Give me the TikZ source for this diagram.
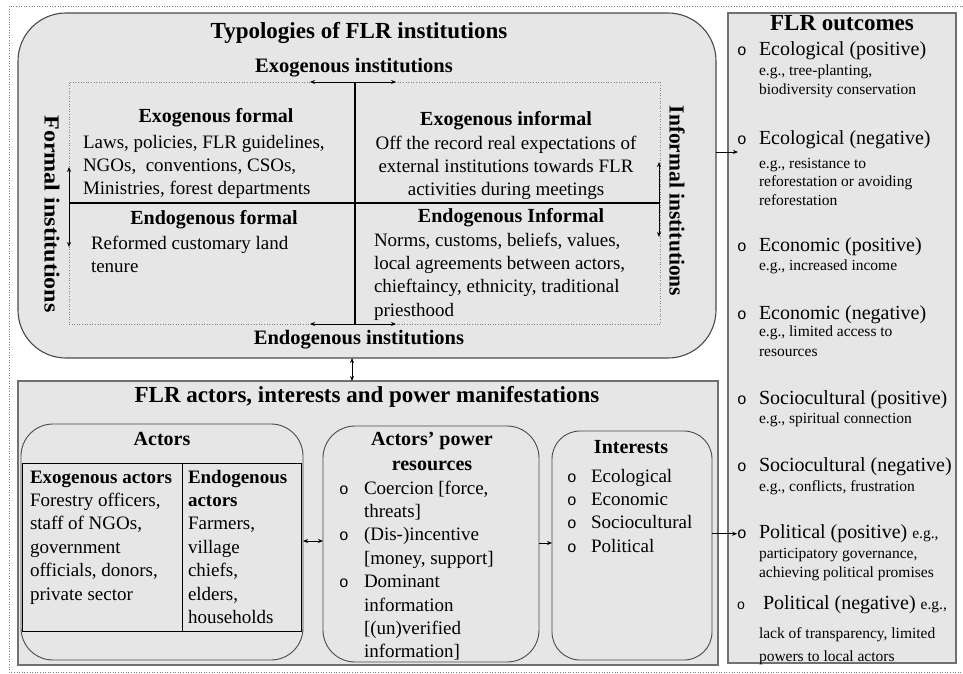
\documentclass[tikz,border=0pt]{standalone}
\usepackage{fontspec}
\setmainfont{Liberation Serif}
\newfontfamily\bulletfamily{Liberation Mono}
\usetikzlibrary{arrows.meta}
\definecolor{panel}{HTML}{E6E6E6}
\definecolor{edge}{HTML}{4A4A4A}
\definecolor{softedge}{HTML}{707070}
\newcommand{\lft}[1]{\begin{tabular}[t]{@{}l@{}}#1\end{tabular}}
\newcommand{\ctr}[1]{\begin{tabular}[t]{@{}c@{}}#1\end{tabular}}
\newcommand{\blist}[2]{\begin{tabular}[t]{@{}p{#1}@{}l@{}}#2\end{tabular}}
\newcommand{\blt}{{\bulletfamily\fontsize{16}{16}\selectfont o}}
\begin{document}
\begin{tikzpicture}[x=1pt,y=-1pt,
  every node/.style={inner sep=0pt, outer sep=0pt},
  ttl/.style={font=\fontsize{23}{27}\selectfont\bfseries, anchor=base},
  hd/.style={font=\fontsize{20}{25}\selectfont\bfseries, anchor=base},
  bighd/.style={font=\fontsize{20.5}{25}\selectfont\bfseries, anchor=base},
  sidehd/.style={font=\fontsize{21.5}{25}\selectfont\bfseries, rotate=-90, anchor=center},
  txt/.style={font=\fontsize{19}{23.4}\selectfont, anchor=base west},
  ctxt/.style={font=\fontsize{19}{23.4}\selectfont, anchor=base},
  outhd/.style={font=\fontsize{20}{24}\selectfont, anchor=base west},
  eg/.style={font=\fontsize{15.5}{18.5}\selectfont, anchor=base west},
  bul/.style={font=\bulletfamily\fontsize{16}{16}\selectfont, anchor=base},
  panelbox/.style={draw=edge, fill=panel, line width=1.1pt},
  innerbox/.style={draw=edge, fill=panel, line width=0.9pt},
  frame/.style={draw=gray, dotted, line width=0.6pt},
  divline/.style={draw=black, line width=1.1pt},
  tip/.style={-{Stealth[length=5pt,width=4pt]}, line width=0.8pt},
  dbl/.style={{Stealth[length=5pt,width=4pt]}-{Stealth[length=5pt,width=4pt]}, line width=0.8pt}
]
\useasboundingbox (0,0) rectangle (963,674);
\draw[frame] (963,6) -- (9,6) -- (9,672) -- (963,672);

% ---------- top panel ----------
\node[panelbox, rounded corners=48pt, minimum width=698pt, minimum height=345pt] (typo) at (367,185.5) {};
\node[ttl] (typot) at (359,39) {Typologies of FLR institutions};
\node[bighd] (exoi) at (354,73) {Exogenous institutions};
\node[bighd] (endoi) at (359,344) {Endogenous institutions};
\node[draw=gray, dotted, line width=0.6pt, minimum width=591pt, minimum height=242pt] (quad) at (364.5,203) {};
\coordinate (qc) at (355,203);
\draw[divline] (quad.north -| qc) -- (quad.south -| qc);
\draw[divline] (quad.west |- qc) -- (quad.east |- qc);
\coordinate (ta) at (310,82); \coordinate (tb) at (396,82);
\coordinate (ba) at (310,324); \coordinate (bb) at (396,324);
\coordinate (la) at (69,167); \coordinate (lb) at (69,247);
\coordinate (ra) at (659,162); \coordinate (rb) at (659,237);
\draw[dbl] (ta) -- (tb);
\draw[dbl] (ba) -- (bb);
\draw[dbl] (la) -- (lb);
\draw[dbl] (ra) -- (rb);
\node[sidehd] (formal) at (52,214) {\scalebox{1.12}[1]{Formal institutions}};
\node[sidehd] (informal) at (677,201) {Informal institutions};

\node[hd] (q1h) at (216,123) {Exogenous formal};
\node[txt] (q1t) at (83,148) {\lft{Laws, policies, FLR guidelines,\\NGOs,\ \ conventions, CSOs,\\Ministries, forest departments}};
\node[hd] (q2h) at (506,125) {Exogenous informal};
\node[ctxt] (q2t) at (506,149) {\ctr{Off the record real expectations of\\external institutions towards FLR\\activities during meetings}};
\node[hd] (q3h) at (214,224) {Endogenous formal};
\node[txt] (q3t) at (91,249) {\lft{Reformed customary land\\tenure}};
\node[hd] (q4h) at (511,222) {Endogenous Informal};
\node[txt] (q4t) at (374,246) {\lft{Norms, customs, beliefs, values,\\local agreements between actors,\\chieftaincy, ethnicity, traditional\\priesthood}};

% ---------- middle panel ----------
\node[panelbox, draw=softedge, minimum width=700pt, minimum height=284pt] (actbox) at (368,523) {};
\node[ttl] (actt) at (367,402) {FLR actors, interests and power manifestations};
\coordinate (vx) at (352,370);
\draw[dbl] (typo.south -| vx) -- (actbox.north -| vx);

\node[innerbox, rounded corners=32pt, minimum width=282pt, minimum height=236pt] (actors) at (162,542) {};
\node[hd] (acth) at (162,445) {Actors};
\node[draw=black, line width=1pt, minimum width=279pt, minimum height=168pt] (tab) at (161.5,547) {};
\coordinate (tv) at (182,547);
\draw[line width=1pt] (tab.north -| tv) -- (tab.south -| tv);
\node[txt] (exoa) at (30,483) {\lft{\textbf{Exogenous actors}\\Forestry officers,\\staff of NGOs,\\government\\officials, donors,\\private sector}};
\node[txt] (endoa) at (188,483) {\lft{\textbf{Endogenous}\\\textbf{actors}\\Farmers,\\village\\chiefs,\\elders,\\households}};

\node[innerbox, rounded corners=32pt, minimum width=216pt, minimum height=236pt] (power) at (431,544) {};
\node[hd] (powh) at (432,445) {\ctr{Actors’ power\\resources}};
\node[txt] (powt) at (339,494) {\blist{25pt}{\blt & Coercion [force,\\ & threats]\\ \blt & (Dis-)incentive\\ & [money, support]\\ \blt & Dominant\\ & information\\ & [(un)verified\\ & information]}};

\node[innerbox, rounded corners=28pt, minimum width=160pt, minimum height=229pt] (intr) at (632,545.5) {};
\node[hd] (inth) at (631,453) {Interests};
\node[txt] (intt) at (567,482) {\blist{24pt}{\blt & Ecological\\ \blt & Economic\\ \blt & Sociocultural\\ \blt & Political}};

\coordinate (c1) at (313,541);
\coordinate (c2) at (545,543);
\draw[dbl] (actors.east |- c1) -- (power.west |- c1);
\draw[tip] (power.east |- c2) -- (intr.west |- c2);

% ---------- outcomes ----------
\node[panelbox, draw=softedge, minimum width=228pt, minimum height=650pt] (outc) at (842,338) {};
\node[ttl] (outt) at (842,31) {FLR outcomes};

\node[bul] (b1) at (742,56) {o};
\node[outhd] (o1) at (759,56) {Ecological (positive)};
\node[eg] (e1) at (759,76) {\lft{e.g., tree-planting,\\biodiversity conservation}};

\node[bul] (b2) at (742,144) {o};
\node[outhd] (o2) at (759,144) {Ecological (negative)};
\node[eg] (e2) at (759,168) {\lft{e.g., resistance to\\reforestation or avoiding\\reforestation}};

\node[bul] (b3) at (742,251) {o};
\node[outhd] (o3) at (759,251) {Economic (positive)};
\node[eg] (e3) at (759,270) {e.g., increased income};

\node[bul] (b4) at (742,319) {o};
\node[outhd] (o4) at (759,319) {Economic (negative)};
\node[eg] (e4) at (759,336) {\lft{e.g., limited access to\\[1.5pt]resources}};

\node[bul] (b5) at (742,404) {o};
\node[outhd] (o5) at (759,404) {Sociocultural (positive)};
\node[eg] (e5) at (759,423) {e.g., spiritual connection};

\node[bul] (b6) at (742,471) {o};
\node[outhd] (o6) at (759,471) {Sociocultural (negative)};
\node[eg] (e6) at (759,491) {e.g., conflicts, frustration};

\node[bul] (b7) at (742,538) {o};
\node[outhd] (o7) at (759,538) {Political (positive) {\fontsize{15.5}{18}\selectfont e.g.,}};
\node[eg] (e7) at (759,558) {\lft{participatory governance,\\[1pt]achieving political promises}};

\node[bul, font=\bulletfamily\fontsize{14}{14}\selectfont] (b8) at (741,609) {o};
\node[outhd] (o8) at (763,609) {Political (negative) {\fontsize{15.5}{18}\selectfont e.g.,}};
\node[eg] (e8) at (759,638) {\lft{lack of transparency, limited\\[5pt]powers to local actors}};

\coordinate (a1) at (738,152);
\draw[tip] (typo.east |- a1) -- (a1);
\draw[tip] (intr.east |- b7.west) -- (b7.west);
\end{tikzpicture}
\end{document}
